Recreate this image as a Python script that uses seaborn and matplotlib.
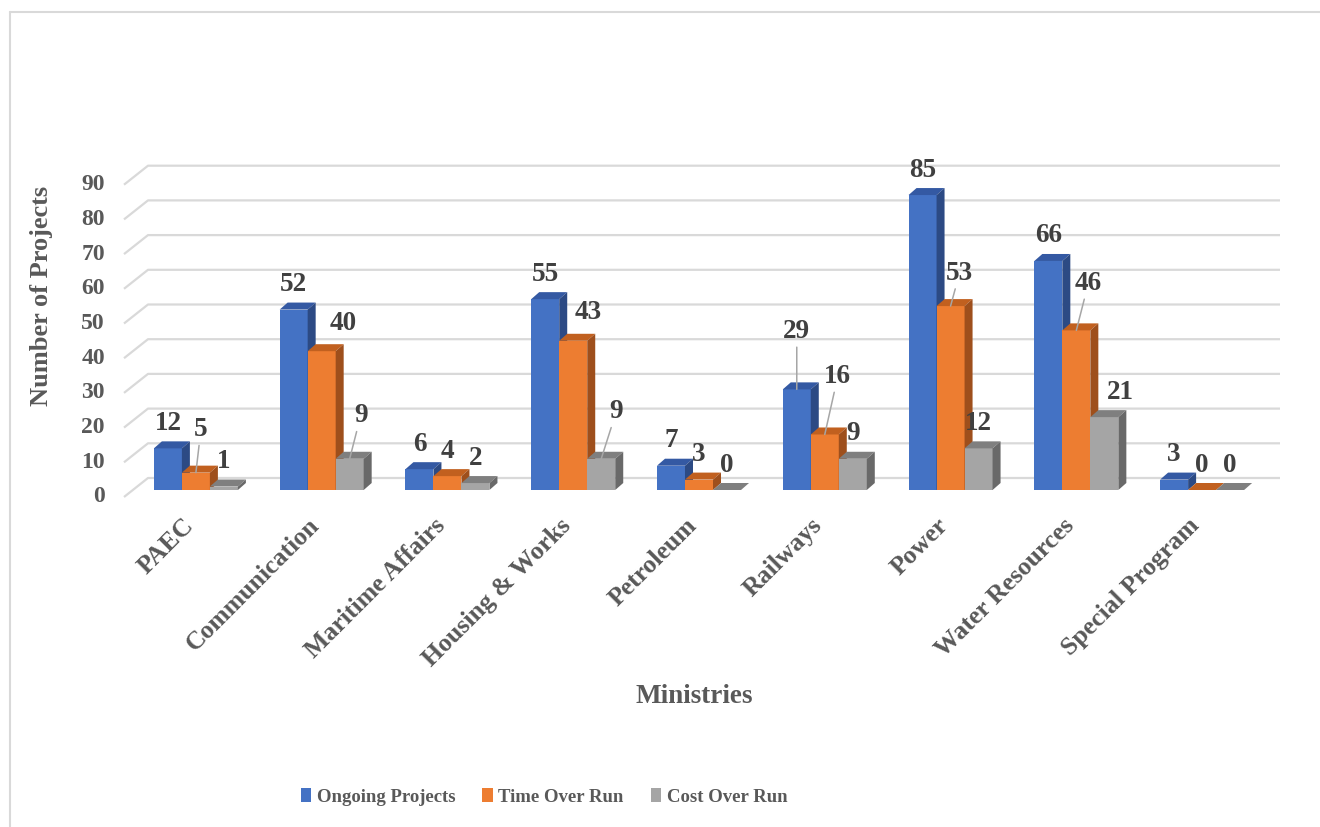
import matplotlib
matplotlib.use("Agg")
import matplotlib.pyplot as plt
import pandas as pd
import seaborn as sns
from matplotlib.patches import Polygon, Patch
from matplotlib.lines import Line2D
from matplotlib.transforms import ScaledTranslation

# ---- data -------------------------------------------------------------
ministries = ["PAEC", "Communication", "Maritime Affairs", "Housing & Works",
              "Petroleum", "Railways", "Power", "Water Resources", "Special Program"]
ongoing = [12, 52, 6, 55, 7, 29, 85, 66, 3]
time_over = [5, 40, 4, 43, 3, 16, 53, 46, 0]
cost_over = [1, 9, 2, 9, 0, 9, 12, 21, 0]
series_names = ["Ongoing Projects", "Time Over Run", "Cost Over Run"]
y_ticks = list(range(0, 100, 10))

# ---- styling ----------------------------------------------------------
front_colors = ["#4472C4", "#ED7D31", "#A5A5A5"]
top_colors = ["#3459A3", "#C1601F", "#7F7F7F"]
side_colors = ["#2C4A84", "#9E4F1C", "#696969"]
text_dark = "#404040"
text_axis = "#595959"
grid_color = "#D9D9D9"

# label nudges (pixels right, pixels up, leader line) for crowded labels
label_nudges = {
    (0, 1): (5, 18, True),
    (1, 1): (22, 3, False),
    (1, 2): (11, 18, True),
    (3, 1): (15, 3, False),
    (3, 2): (15, 22, True),
    (5, 0): (0, 33, True),
    (5, 1): (13, 33, True),
    (6, 1): (9, 8, True),
    (7, 1): (12, 22, True),
    (7, 2): (16, 0, False),
}

df = pd.DataFrame({
    "Ministry": ministries * 3,
    "Series": [s for s in series_names for _ in ministries],
    "Count": ongoing + time_over + cost_over,
})
values = [ongoing, time_over, cost_over]

sns.set_theme(style="white")
plt.rcParams["font.family"] = ["Liberation Serif", "DejaVu Serif"]
plt.rcParams["font.weight"] = "bold"

W, H = 1320, 827
fig = plt.figure(figsize=(W / 100, H / 100), dpi=100)
ax = fig.add_axes([133 / W, (H - 490) / H, 1132 / W, 312.3 / H])

sns.barplot(data=df, x="Ministry", y="Count", hue="Series",
            hue_order=series_names, palette=front_colors, saturation=1,
            width=0.668, linewidth=0, legend=False, errorbar=None, ax=ax)

ax.set_xlim(-0.5, 8.5)
ax.set_ylim(0, 90)
for s in ax.spines.values():
    s.set_visible(False)
ax.set_yticks([])
ax.set_xticks(range(len(ministries)))
ax.set_xticklabels(ministries, rotation=45, ha="right", va="center",
                   rotation_mode="anchor", fontsize=18.5, color=text_axis,
                   fontweight="bold")
ax.tick_params(axis="x", length=0, pad=23)
shift = ScaledTranslation(-0.06, 0, fig.dpi_scale_trans)
for lbl in ax.get_xticklabels():
    lbl.set_transform(lbl.get_transform() + shift)

# pixel size of one data unit, for the 3-D depth offsets
p0 = ax.transData.transform((0, 0))
p1 = ax.transData.transform((1, 1))
sx, sy = p1[0] - p0[0], p1[1] - p0[1]

# back wall gridlines with a short diagonal on the left floor edge
fx, fy = -9, -7
bx, by = 15, 12
for t in y_ticks:
    xs = [-0.5 + fx / sx, -0.5 + bx / sx, 8.5 + bx / sx]
    ys = [t + fy / sy, t + by / sy, t + by / sy]
    ax.plot(xs, ys, color=grid_color, lw=1.6, zorder=0.5, clip_on=False,
            solid_capstyle="butt")
    ax.text(-0.5 - 28 / sx, t + fy / sy, str(t), ha="right", va="center",
            fontsize=17, color=text_axis, fontweight="bold", clip_on=False)

# 3-D bar faces: top and right side for every seaborn bar
dxd, dyd = 8 / sx, 7 / sy
bars = sorted(ax.patches, key=lambda p: p.get_x())
bw = bars[0].get_width()
for k, p in enumerate(bars):
    x0 = p.get_x()
    x1 = x0 + p.get_width()
    h = p.get_height()
    xc = x0 + p.get_width() / 2
    ci = int(round(xc))
    hi = int(round((xc - ci) / bw)) + 1
    z = 2 + k * 0.01
    p.set_zorder(z)
    ax.add_patch(Polygon([(x0, h), (x1, h), (x1 + dxd, h + dyd), (x0 + dxd, h + dyd)],
                         closed=True, facecolor=top_colors[hi], edgecolor="none",
                         zorder=z + 0.005, clip_on=False))
    ax.add_patch(Polygon([(x1, 0), (x1, h), (x1 + dxd, h + dyd), (x1 + dxd, dyd)],
                         closed=True, facecolor=side_colors[hi], edgecolor="none",
                         zorder=z + 0.005, clip_on=False))

    val = values[hi][ci]
    ndx, ndy, lead = label_nudges.get((ci, hi), (0, 0, False))
    arrow = dict(arrowstyle="-", color="#A6A6A6", lw=1.1, shrinkA=0, shrinkB=0) if lead else None
    ax.annotate(str(val), xy=(xc, val), xytext=(ndx * 0.72, (25 + ndy) * 0.72),
                textcoords="offset points", ha="center", va="center",
                fontsize=19.5, color=text_dark, fontweight="bold", zorder=10,
                arrowprops=arrow, annotation_clip=False)

ax.set_xlabel("Ministries", fontsize=19.5, color=text_axis, fontweight="bold")
ax.xaxis.set_label_coords(0.4956, -0.621)
ax.set_ylabel("Number of Projects", fontsize=19, color=text_axis, fontweight="bold")
ax.yaxis.set_label_coords(-0.0707, 0.621)

handles = [Patch(facecolor=c, edgecolor="none") for c in front_colors]
fig.legend(handles=handles, labels=series_names, loc="center",
           bbox_to_anchor=(544 / W, 1 - 797 / H), ncol=3, frameon=False,
           prop={"size": 13.5, "weight": "bold"}, labelcolor=text_axis,
           handlelength=0.55, handleheight=0.75, handletextpad=0.3,
           columnspacing=1.45)

# chart border
fig.add_artist(Line2D([10 / W, 10 / W], [0, 1 - 12 / H], transform=fig.transFigure,
                      color=grid_color, lw=1.5))
fig.add_artist(Line2D([10 / W, 1], [1 - 12 / H, 1 - 12 / H], transform=fig.transFigure,
                      color=grid_color, lw=1.5))

fig.savefig("out.png", dpi=100)
